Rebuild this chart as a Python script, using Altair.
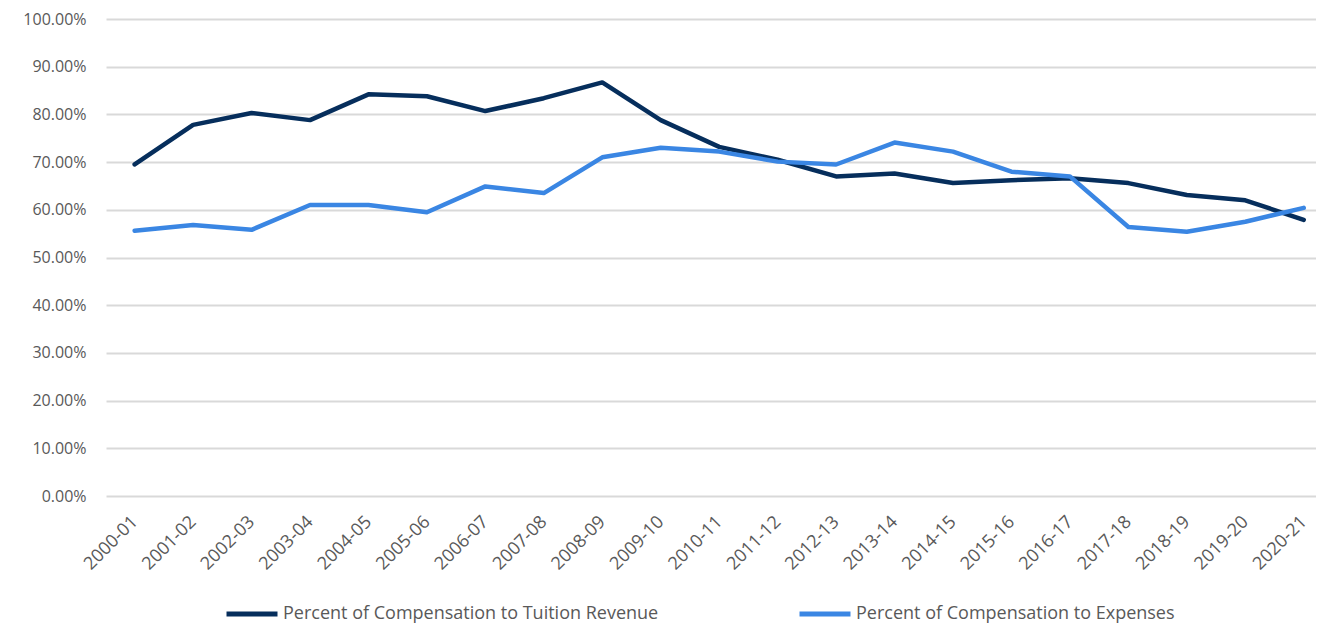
import altair as alt
import pandas as pd

years = ["2000-01", "2001-02", "2002-03", "2003-04", "2004-05", "2005-06", "2006-07",
         "2007-08", "2008-09", "2009-10", "2010-11", "2011-12", "2012-13", "2013-14",
         "2014-15", "2015-16", "2016-17", "2017-18", "2018-19", "2019-20", "2020-21"]
tuition = [0.695, 0.778, 0.803, 0.788, 0.842, 0.838, 0.807, 0.834, 0.867, 0.788, 0.732,
           0.705, 0.670, 0.676, 0.656, 0.662, 0.666, 0.656, 0.631, 0.620, 0.579]
expenses = [0.556, 0.568, 0.558, 0.610, 0.610, 0.595, 0.649, 0.635, 0.710, 0.730, 0.722,
            0.701, 0.695, 0.741, 0.722, 0.680, 0.670, 0.564, 0.554, 0.575, 0.604]
series_names = ["Percent of Compensation to Tuition Revenue", "Percent of Compensation to Expenses"]
series_colors = ["#062e5c", "#3a86e3"]
y_ticks = [0.0, 0.1, 0.2, 0.3, 0.4, 0.5, 0.6, 0.7, 0.8, 0.9, 1.0]

rows = []
for i, y in enumerate(years):
    rows.append({"year": y, "series": series_names[0], "value": tuition[i], "order": 0})
    rows.append({"year": y, "series": series_names[1], "value": expenses[i], "order": 1})
df = pd.DataFrame(rows)

FONT = "Open Sans"
GRAY = "#595959"

chart = alt.Chart(df).mark_line(strokeWidth=4.5, strokeCap="round", strokeJoin="round").encode(
    x=alt.X("year:N", sort=years,
            scale=alt.Scale(type="point", padding=0.35, align=0.7),
            axis=alt.Axis(title=None, labelAngle=-45, labelAlign="right", labelBaseline="middle",
                          labelFontSize=18, labelColor=GRAY, labelFont=FONT, ticks=False,
                          domain=False, grid=False, labelPadding=23)),
    y=alt.Y("value:Q",
            scale=alt.Scale(domain=[0, 1], nice=False),
            axis=alt.Axis(title=None, values=y_ticks, format=".2%", labelFontSize=16,
                          labelColor=GRAY, labelFont=FONT, ticks=False, domain=False,
                          grid=True, gridColor="#d9d9d9", gridWidth=2, labelPadding=20)),
    color=alt.Color("series:N",
                    scale=alt.Scale(domain=series_names, range=series_colors),
                    legend=alt.Legend(title=None, orient="none", direction="horizontal",
                                      legendX=118, legendY=567, padding=0,
                                      symbolType="stroke", symbolSize=2600,
                                      symbolStrokeWidth=5, labelFontSize=18,
                                      labelColor=GRAY, labelFont=FONT, labelLimit=0,
                                      columnPadding=130, labelOffset=3)),
    order=alt.Order("order:Q"),
    detail="series:N",
).properties(
    width=1210, height=477,
    padding={"left": 98, "top": 11, "right": 0, "bottom": 128},
    autosize=alt.AutoSizeParams(type="none"),
).configure_view(stroke=None)

chart.save("out.html", embed_options={"renderer": "svg", "actions": False})
